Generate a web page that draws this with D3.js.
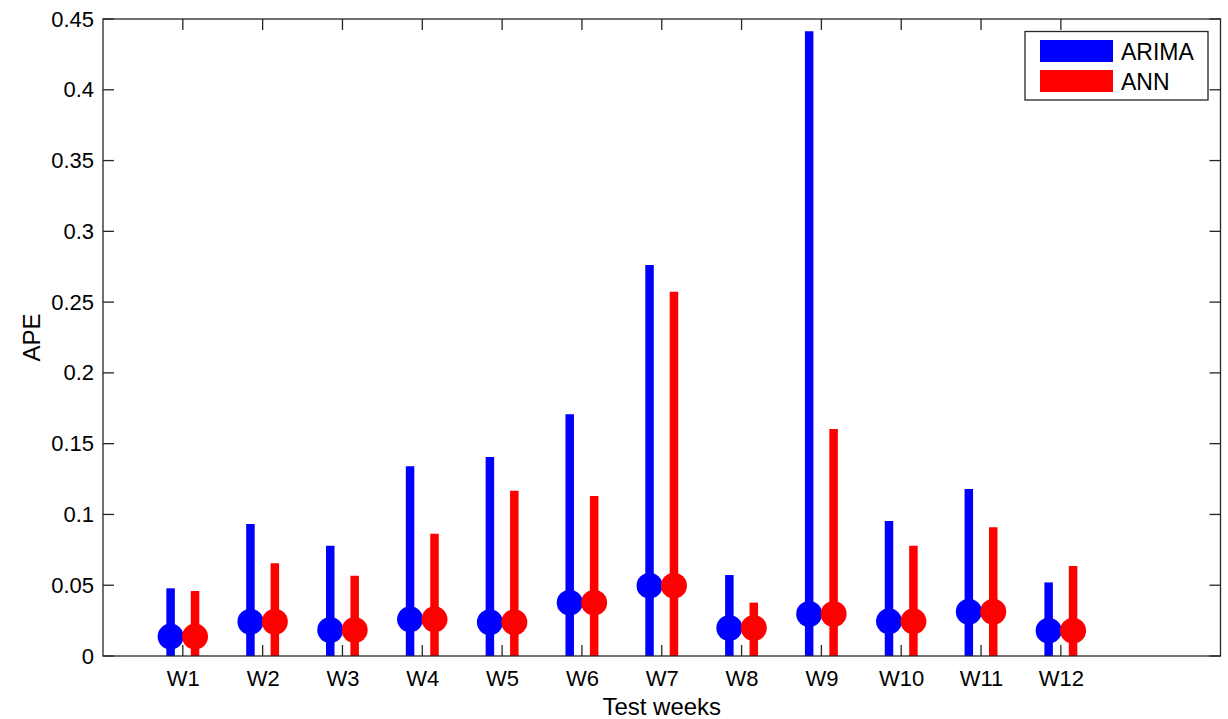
<!DOCTYPE html>
<html>
<head>
<meta charset="utf-8">
<script src="https://cdn.jsdelivr.net/npm/d3@7"></script>
<style>
  body { margin: 0; background: #fff; }
  text { font-family: "Liberation Sans", Arial, sans-serif; fill: #000; }
</style>
</head>
<body>
<svg id="chart" width="1228" height="719"></svg>
<script>
// Weekly APE: range (bar to max) and median (dot) for each model
const weeks = ["W1","W2","W3","W4","W5","W6","W7","W8","W9","W10","W11","W12"];
const arimaMax = [0.0478,0.0932,0.0779,0.1340,0.1406,0.1707,0.2762,0.0572,0.4413,0.0954,0.1180,0.0520];
const annMax   = [0.0459,0.0655,0.0567,0.0864,0.1168,0.1130,0.2574,0.0377,0.1603,0.0779,0.0910,0.0636];
const medianAPE = [0.0137,0.0242,0.0184,0.0259,0.0238,0.0377,0.0497,0.0198,0.0297,0.0245,0.0313,0.0179];
const yTicks = [0,0.05,0.1,0.15,0.2,0.25,0.3,0.35,0.4,0.45];
const seriesNames = ["ARIMA","ANN"];
const seriesColors = ["#0000ff","#ff0000"];

const svg = d3.select("#chart");
const mLeft = 103, mRight = 1220.5, mTop = 19, mBottom = 656;

const x = d3.scaleLinear().domain([0, 14]).range([mLeft, mRight]);
const y = d3.scaleLinear().domain([0, 0.45]).range([mBottom, mTop]);
const off = 0.153;

const axisColor = "#262626";
const tickLen = 11;
const tickFont = 22;
const labelFont = 24;

// tick labels
const xAxis = d3.axisBottom(x).tickValues(d3.range(1, 13)).tickFormat(i => weeks[i - 1]).tickSize(0).tickPadding(14);
const gx = svg.append("g").attr("transform", `translate(0,${mBottom})`).call(xAxis);
gx.select(".domain").remove();
gx.selectAll("text").attr("font-size", tickFont).attr("fill", "#000");

const yAxis = d3.axisLeft(y).tickValues(yTicks).tickFormat(d => String(+d.toFixed(2))).tickSize(0).tickPadding(9);
const gy = svg.append("g").attr("transform", `translate(${mLeft},0)`).call(yAxis);
gy.select(".domain").remove();
gy.selectAll("text").attr("font-size", tickFont).attr("fill", "#000");

// plot marks
const plot = svg.append("g");
const series = [arimaMax, annMax];
series.forEach((vals, s) => {
  const dx = s === 0 ? -off : off;
  plot.selectAll(null).data(vals).enter().append("line")
    .attr("x1", (d, i) => x(i + 1 + dx)).attr("x2", (d, i) => x(i + 1 + dx))
    .attr("y1", y(0)).attr("y2", d => y(d))
    .attr("stroke", seriesColors[s]).attr("stroke-width", 8.5);
});
series.forEach((vals, s) => {
  const dx = s === 0 ? -off : off;
  plot.selectAll(null).data(medianAPE).enter().append("circle")
    .attr("cx", (d, i) => x(i + 1 + dx)).attr("cy", d => y(d))
    .attr("r", 13).attr("fill", seriesColors[s]);
});

// axes frame with inward ticks
const frame = svg.append("g").attr("stroke", axisColor).attr("stroke-width", 1.3).attr("fill", "none");
frame.append("rect").attr("x", mLeft).attr("y", mTop).attr("width", mRight - mLeft).attr("height", mBottom - mTop);
d3.range(1, 13).forEach(i => {
  frame.append("line").attr("x1", x(i)).attr("x2", x(i)).attr("y1", mBottom).attr("y2", mBottom - tickLen);
  frame.append("line").attr("x1", x(i)).attr("x2", x(i)).attr("y1", mTop).attr("y2", mTop + tickLen);
});
yTicks.forEach(t => {
  frame.append("line").attr("x1", mLeft).attr("x2", mLeft + tickLen).attr("y1", y(t)).attr("y2", y(t));
  frame.append("line").attr("x1", mRight).attr("x2", mRight - tickLen).attr("y1", y(t)).attr("y2", y(t));
});

// axis titles
svg.append("text").attr("x", x(7)).attr("y", 715).attr("text-anchor", "middle").attr("font-size", labelFont).text("Test weeks");
svg.append("text").attr("transform", `translate(40,${(mTop + mBottom) / 2}) rotate(-90)`)
  .attr("text-anchor", "middle").attr("font-size", labelFont).text("APE");

// legend
const lg = svg.append("g");
lg.append("rect").attr("x", 1025).attr("y", 31.5).attr("width", 183).attr("height", 68.5)
  .attr("fill", "#fff").attr("stroke", axisColor).attr("stroke-width", 1.3);
seriesNames.forEach((n, k) => {
  lg.append("rect").attr("x", 1040).attr("y", 40 + k * 30).attr("width", 73).attr("height", 22).attr("fill", seriesColors[k]);
  lg.append("text").attr("x", 1121).attr("y", 60 + k * 29.5).attr("font-size", 23).text(n);
});
</script>
</body>
</html>
